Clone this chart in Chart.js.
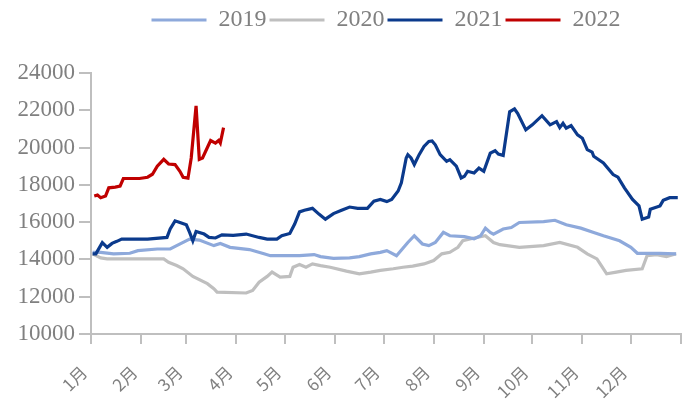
<!DOCTYPE html>
<html>
<head>
<meta charset="utf-8">
<script src="https://cdn.jsdelivr.net/npm/chart.js@4/dist/chart.umd.min.js"></script>
<style>
  body { margin: 0; background: #fff; }
  #wrap { width: 690px; height: 407px; }
</style>
</head>
<body>
<div id="wrap"><canvas id="chart"></canvas></div>
<script>
// month start (day of year) and labels
const monthStarts = [0, 31, 59, 90, 120, 151, 181, 212, 243, 273, 304, 334, 365];
const monthLabels = ['1月', '2月', '3月', '4月', '5月', '6月', '7月', '8月', '9月', '10月', '11月', '12月', ''];
const yTicks = [10000, 12000, 14000, 16000, 18000, 20000, 22000, 24000];

const days2019 = [1, 6, 14, 24, 29, 41, 49, 53, 61, 67, 76, 80, 86, 98, 107, 111, 129, 138, 142, 150, 160, 166, 173, 179, 183, 189, 196, 200, 205, 209, 213, 218, 222, 231, 237, 241, 244, 247, 249, 255, 260, 265, 280, 287, 294, 303, 311, 317, 327, 334, 338, 344, 352, 362];
const vals2019 = [14380, 14380, 14300, 14330, 14470, 14560, 14560, 14740, 15090, 15040, 14740, 14860, 14650, 14530, 14300, 14200, 14200, 14260, 14150, 14060, 14080, 14150, 14300, 14380, 14470, 14200, 14910, 15270, 14830, 14740, 14910, 15450, 15270, 15220, 15100, 15270, 15680, 15450, 15360, 15630, 15710, 15980, 16030, 16100, 15860, 15680, 15450, 15270, 15000, 14650, 14330, 14330, 14330, 14300];

const days2020 = [1, 6, 10, 45, 48, 53, 57, 63, 72, 76, 78, 96, 100, 104, 109, 112, 117, 123, 125, 129, 133, 137, 142, 148, 158, 166, 173, 179, 187, 193, 199, 206, 212, 217, 222, 227, 230, 237, 244, 249, 253, 265, 280, 290, 301, 307, 313, 315, 319, 325, 331, 341, 344, 350, 356, 362];
const vals2020 = [14300, 14080, 14030, 14030, 13850, 13670, 13500, 13090, 12700, 12430, 12250, 12200, 12340, 12780, 13090, 13320, 13050, 13090, 13580, 13730, 13580, 13760, 13670, 13580, 13370, 13230, 13320, 13410, 13500, 13580, 13640, 13760, 13940, 14300, 14380, 14650, 15000, 15150, 15270, 14910, 14790, 14650, 14740, 14910, 14650, 14300, 14030, 13760, 13230, 13320, 13410, 13500, 14200, 14260, 14150, 14300];

const days2021 = [1, 3, 7, 10, 13, 16, 19, 35, 47, 49, 52, 55, 59, 61, 63, 65, 70, 73, 77, 81, 88, 96, 104, 109, 115, 118, 123, 126, 129, 132, 137, 141, 145, 150, 155, 160, 165, 171, 175, 179, 183, 186, 190, 192, 195, 196, 198, 200, 203, 206, 209, 211, 213, 216, 220, 222, 226, 229, 231, 233, 237, 240, 243, 247, 250, 252, 255, 259, 262, 264, 269, 273, 279, 284, 288, 290, 292, 294, 297, 301, 304, 307, 310, 311, 317, 323, 326, 330, 335, 339, 341, 345, 346, 352, 354, 358, 363];
const vals2021 = [14300, 14300, 14900, 14650, 14860, 14970, 15090, 15090, 15180, 15630, 16070, 15980, 15860, 15450, 15000, 15500, 15360, 15180, 15150, 15320, 15290, 15360, 15180, 15090, 15090, 15270, 15390, 15900, 16550, 16640, 16740, 16430, 16160, 16460, 16640, 16810, 16740, 16740, 17130, 17220, 17100, 17220, 17670, 18110, 19440, 19620, 19440, 19090, 19620, 20060, 20330, 20360, 20150, 19620, 19260, 19350, 19000, 18370, 18460, 18730, 18640, 18900, 18730, 19700, 19830, 19650, 19580, 21920, 22070, 21830, 20950, 21220, 21710, 21220, 21390, 21070, 21300, 21040, 21180, 20680, 20500, 19890, 19760, 19530, 19170, 18550, 18410, 17840, 17220, 16870, 16160, 16280, 16690, 16870, 17170, 17310, 17310];

const days2022 = [2, 4, 6, 9, 11, 15, 18, 20, 30, 35, 38, 41, 45, 48, 52, 55, 57, 60, 62, 65, 67, 69, 74, 77, 79, 80, 82];
const vals2022 = [17400, 17450, 17310, 17400, 17840, 17880, 17930, 18340, 18340, 18410, 18570, 19000, 19370, 19120, 19090, 18730, 18410, 18360, 19440, 22240, 19370, 19440, 20380, 20240, 20380, 20240, 21070];

const toPoints = (xs, ys) => xs.map((x, i) => ({ x: x, y: ys[i] }));

const grey = '#808080';
const axisColor = '#BFBFBF';

function series(label, xs, ys, color, order) {
    return {
        label: label,
        data: toPoints(xs, ys),
        borderColor: color,
        backgroundColor: color,
        borderWidth: 3.2,
        pointRadius: 0,
        tension: 0,
        order: order
    };
}

// extra space under the legend
const legendGap = {
    id: 'legendGap',
    beforeInit: function (chart) {
        const fit = chart.legend.fit;
        chart.legend.fit = function () {
            fit.bind(chart.legend)();
            this.height += 31;
        };
    }
};

new Chart(document.getElementById('chart').getContext('2d'), {
    type: 'line',
    data: {
        datasets: [
            series('2019', days2019, vals2019, '#8EA9DB', 2),
            series('2020', days2020, vals2020, '#BFBFBF', 3),
            series('2021', days2021, vals2021, '#0B3A8C', 1),
            series('2022', days2022, vals2022, '#C00000', 0)
        ]
    },
    plugins: [legendGap],
    options: {
        responsive: true,
        maintainAspectRatio: false,
        animation: false,
        layout: { padding: { top: 5, right: 9, left: 0, bottom: 0 } },
        plugins: {
            tooltip: { enabled: false },
            legend: {
                position: 'top',
                fullSize: false,
                labels: {
                    boxWidth: 55,
                    boxHeight: 3,
                    padding: 3,
                    color: grey,
                    font: { family: 'Liberation Serif', size: 24 },
                    sort: (a, b) => a.datasetIndex - b.datasetIndex,
                    generateLabels: function (chart) {
                        return Chart.defaults.plugins.legend.labels.generateLabels(chart).map(l => {
                            l.fillStyle = l.strokeStyle;
                            l.lineWidth = 0;
                            return l;
                        });
                    }
                }
            }
        },
        scales: {
            x: {
                type: 'linear',
                min: 0,
                max: 365,
                afterBuildTicks: function (scale) {
                    scale.ticks = monthStarts.map(v => ({ value: v }));
                },
                afterFit: function (scale) {
                    scale.height = 73;
                    scale.paddingLeft = 0;
                    scale.paddingRight = 0;
                },
                ticks: {
                    autoSkip: false,
                    minRotation: 45,
                    maxRotation: 45,
                    labelOffset: -7,
                    padding: 18,
                    color: grey,
                    font: { family: 'Noto Sans CJK SC', size: 17 },
                    callback: function (value, index) { return monthLabels[index]; }
                },
                grid: { drawOnChartArea: false, tickLength: 10, color: axisColor, lineWidth: 2 },
                border: { color: axisColor, width: 2 }
            },
            y: {
                min: 10000,
                max: 24000,
                afterBuildTicks: function (scale) {
                    scale.ticks = yTicks.map(v => ({ value: v }));
                },
                afterFit: function (scale) { scale.width = 91; },
                ticks: {
                    color: grey,
                    padding: 4,
                    font: { family: 'Liberation Serif', size: 23 },
                    callback: function (value) { return String(value); }
                },
                grid: { drawOnChartArea: false, tickLength: 12, color: axisColor, lineWidth: 2 },
                border: { color: axisColor, width: 2 }
            }
        }
    }
});
</script>
</body>
</html>
